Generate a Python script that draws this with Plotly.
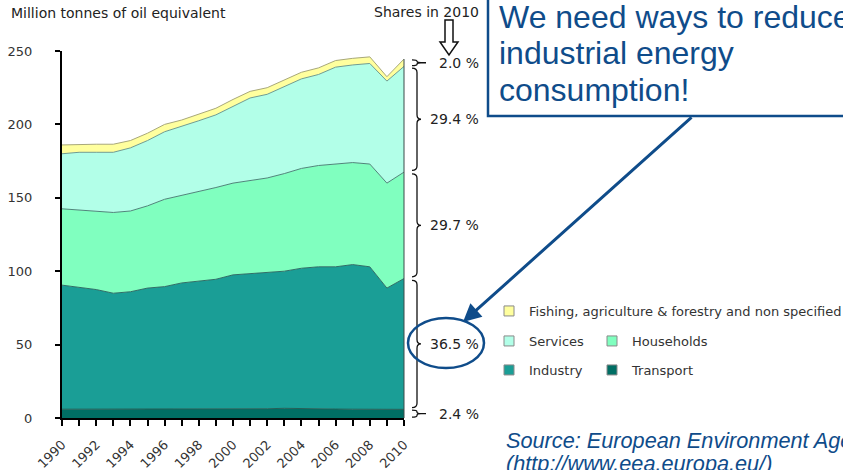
import plotly.graph_objects as go

# ---------------- data ----------------
years = list(range(1990, 2011))
transport = [6.0, 6.0, 6.0, 6.0, 6.0, 6.0, 6.2, 6.2, 6.2, 6.2, 6.2, 6.2, 6.3, 6.6, 6.3, 6.2, 6.1, 6.0, 6.1, 5.7, 5.9]
industry = [84.5, 83.0, 81.5, 79.0, 80.0, 82.5, 83.3, 85.8, 86.8, 88.3, 91.3, 92.3, 92.7, 93.4, 95.7, 96.8, 96.9, 98.5, 96.9, 82.8, 89.1]
households = [52.0, 52.5, 53.0, 55.0, 55.0, 56.0, 59.5, 59.5, 61.0, 62.5, 62.5, 63.5, 64.5, 66.5, 68.0, 69.0, 70.0, 69.5, 70.0, 71.5, 72.5]
services = [37.5, 39.5, 40.5, 41.0, 43.0, 44.5, 46.0, 47.0, 48.5, 49.5, 52.5, 56.0, 57.0, 59.5, 61.0, 62.0, 66.0, 66.5, 68.5, 69.5, 72.0]
fishing = [6.0, 5.5, 5.5, 5.5, 5.0, 5.0, 5.0, 4.5, 4.5, 4.5, 4.5, 4.5, 4.5, 4.5, 4.5, 4.5, 4.5, 4.5, 4.5, 3.0, 5.0]

series_names = ["Transport", "Industry", "Households", "Services",
                "Fishing, agriculture & forestry and non specified"]
series_values = [transport, industry, households, services, fishing]
fill_colors = ["#006E64", "#1A9E96", "#80FFBF", "#B2FFE8", "#FFFF9E"]
line_colors = ["#245F57", "#2F6E66", "#4F857A", "#6E9C92", "#A8A87A"]
shares_2010 = ["2.4 %", "36.5 %", "29.7 %", "29.4 %", "2.0 %"]
x_ticks = list(range(1990, 2011, 2))
y_ticks = [0, 50, 100, 150, 200, 250]

# ---------------- geometry helpers (pixels -> paper) ----------------
W, H = 843, 470
ML, MR, MT, MB = 62, 439, 51, 52
PW, PH = W - ML - MR, H - MT - MB


def px_x(p):
    return (p - ML) / PW


def px_y(p):
    return (H - MB - p) / PH


BLUE = "#0F4C8A"
FONT = "DejaVu Sans"
TXT = "#333333"

fig = go.Figure()

for name, vals, fc, lc in zip(series_names, series_values, fill_colors, line_colors):
    fig.add_trace(go.Scatter(
        x=years, y=vals, name=name, stackgroup="one", mode="lines",
        line=dict(color=lc, width=1), fillcolor=fc, showlegend=False,
        hoverinfo="x+y+name"))

# legend entries (one legend per entry to reproduce the layout)
legend_pos = {
    "Fishing, agriculture & forestry and non specified": (510, 311),
    "Services": (510, 341),
    "Households": (613, 341),
    "Industry": (510, 370),
    "Transport": (613, 370),
}
legend_layouts = {}
for i, (name, fc) in enumerate(zip(series_names, fill_colors)):
    key = "legend" if i == 0 else f"legend{i + 1}"
    fig.add_trace(go.Scatter(
        x=[None], y=[None], mode="markers", name=name, legend=key,
        marker=dict(symbol="square", size=10, color=fc, line=dict(color="#8A8A8A", width=1)),
        showlegend=True))
    cx, cy = legend_pos[name]
    legend_layouts[key] = dict(
        x=px_x(cx - 21), y=px_y(cy), xanchor="left", yanchor="middle",
        bgcolor="rgba(0,0,0,0)", borderwidth=0,
        font=dict(family=FONT, size=13, color=TXT))

# cumulative tops in the last year for braces
cum = [0.0]
for vals in series_values:
    cum.append(cum[-1] + vals[-1])

shapes = []
annotations = []


def brace(lo, hi, small):
    xe, xs, xt = px_x(412), px_x(417), px_x(421)
    mid = (lo + hi) / 2
    d = min(3.0, (hi - lo) / 4)
    p = (f"M{xe},{hi} Q{xs},{hi} {xs},{hi - d} L{xs},{mid + d} "
         f"Q{xs},{mid} {xt},{mid} Q{xs},{mid} {xs},{mid - d} "
         f"L{xs},{lo + d} Q{xs},{lo} {xe},{lo}")
    if small:
        p += f" M{xt},{mid} L{px_x(426)},{mid}"
    return p


for i in range(len(series_values)):
    lo, hi = cum[i], cum[i + 1]
    small = (hi - lo) < 15
    g = 0.6 if small else 1.2
    shapes.append(dict(type="path", xref="paper", yref="y",
                       path=brace(lo + g, hi - g, small),
                       line=dict(color="#111111", width=1.3)))
    annotations.append(dict(xref="paper", yref="y", x=px_x(481), y=(lo + hi) / 2,
                            xanchor="right", yanchor="middle", showarrow=False,
                            text=shares_2010[i],
                            font=dict(family=FONT, size=14, color="#222222")))

# right edge of the area
shapes.append(dict(type="line", xref="paper", yref="y", x0=1, x1=1, y0=0, y1=cum[-1],
                   line=dict(color="#3A4A48", width=1)))

# hollow down arrow under "Shares in 2010"
pts = [(445, 20), (453, 20), (453, 42), (458, 42), (449, 55), (440, 42), (445, 42)]
shapes.append(dict(type="path", xref="paper", yref="paper",
                   path="M" + " L".join(f"{px_x(a)},{px_y(b)}" for a, b in pts) + " Z",
                   fillcolor="white", line=dict(color="#111111", width=1.5)))

# callout box
shapes.append(dict(type="rect", xref="paper", yref="paper",
                   x0=px_x(488), x1=px_x(860), y0=px_y(116), y1=px_y(-10),
                   fillcolor="white", line=dict(color=BLUE, width=2.5)))
# ellipse around the industry share
shapes.append(dict(type="circle", xref="paper", yref="paper",
                   x0=px_x(408), x1=px_x(484), y0=px_y(368), y1=px_y(318),
                   line=dict(color=BLUE, width=2.5)))

# arrow from the box to the ellipse
annotations.append(dict(xref="paper", yref="paper", x=px_x(463), y=px_y(322),
                        ax=693 - 463, ay=116 - 322, axref="pixel", ayref="pixel",
                        text="", showarrow=True, arrowhead=2, arrowsize=1.2,
                        arrowwidth=3, arrowcolor=BLUE))

callout_lines = [("We need ways to reduce", 17), ("industrial energy", 53), ("consumption!", 90)]
for t, cy in callout_lines:
    annotations.append(dict(xref="paper", yref="paper", x=px_x(497), y=px_y(cy),
                            xanchor="left", yanchor="middle", showarrow=False, text=t,
                            font=dict(family="Liberation Sans, Arial", size=32, color=BLUE)))

source_lines = [("Source: European Environment Agency", 440), ("(http://www.eea.europa.eu/)", 463)]
for t, cy in source_lines:
    annotations.append(dict(xref="paper", yref="paper", x=px_x(504), y=px_y(cy),
                            xanchor="left", yanchor="middle", showarrow=False,
                            text=f"<i>{t}</i>",
                            font=dict(family="Liberation Sans, Arial", size=21.7, color=BLUE)))

annotations.append(dict(xref="paper", yref="paper", x=px_x(9), y=px_y(13),
                        xanchor="left", yanchor="middle", showarrow=False,
                        text="Million tonnes of oil equivalent",
                        font=dict(family=FONT, size=14, color="#222222")))
annotations.append(dict(xref="paper", yref="paper", x=px_x(481), y=px_y(12),
                        xanchor="right", yanchor="middle", showarrow=False,
                        text="Shares in 2010",
                        font=dict(family=FONT, size=14, color="#222222")))

layout = dict(
    width=W, height=H,
    margin=dict(l=ML, r=MR, t=MT, b=MB, autoexpand=False),
    paper_bgcolor="white", plot_bgcolor="white",
    xaxis=dict(range=[1990, 2010], tickvals=x_ticks, ticktext=[str(v) for v in x_ticks],
               tickangle=-45, ticks="outside", ticklen=6, tickwidth=1.5, tickcolor="black",
               showline=True, linecolor="black", linewidth=2, showgrid=False, zeroline=False,
               minor=dict(dtick=1, tick0=1990, ticks="outside", ticklen=6, tickwidth=1.5,
                          tickcolor="black", showgrid=False),
               tickfont=dict(family=FONT, size=13, color=TXT), ticklabelstandoff=6),
    yaxis=dict(range=[0, 250], tickvals=y_ticks, ticks="outside", ticklen=5, tickwidth=1.5,
               tickcolor="black", showline=True, linecolor="black", linewidth=2,
               showgrid=False, zeroline=False,
               tickfont=dict(family=FONT, size=13, color=TXT), ticklabelstandoff=20),
    shapes=shapes, annotations=annotations,
    hovermode="closest",
)
layout.update(legend_layouts)
fig.update_layout(**layout)

fig.write_html("out.html", config={"displayModeBar": False},
               post_script="document.body.style.margin='0px';document.body.style.overflow='hidden';")
